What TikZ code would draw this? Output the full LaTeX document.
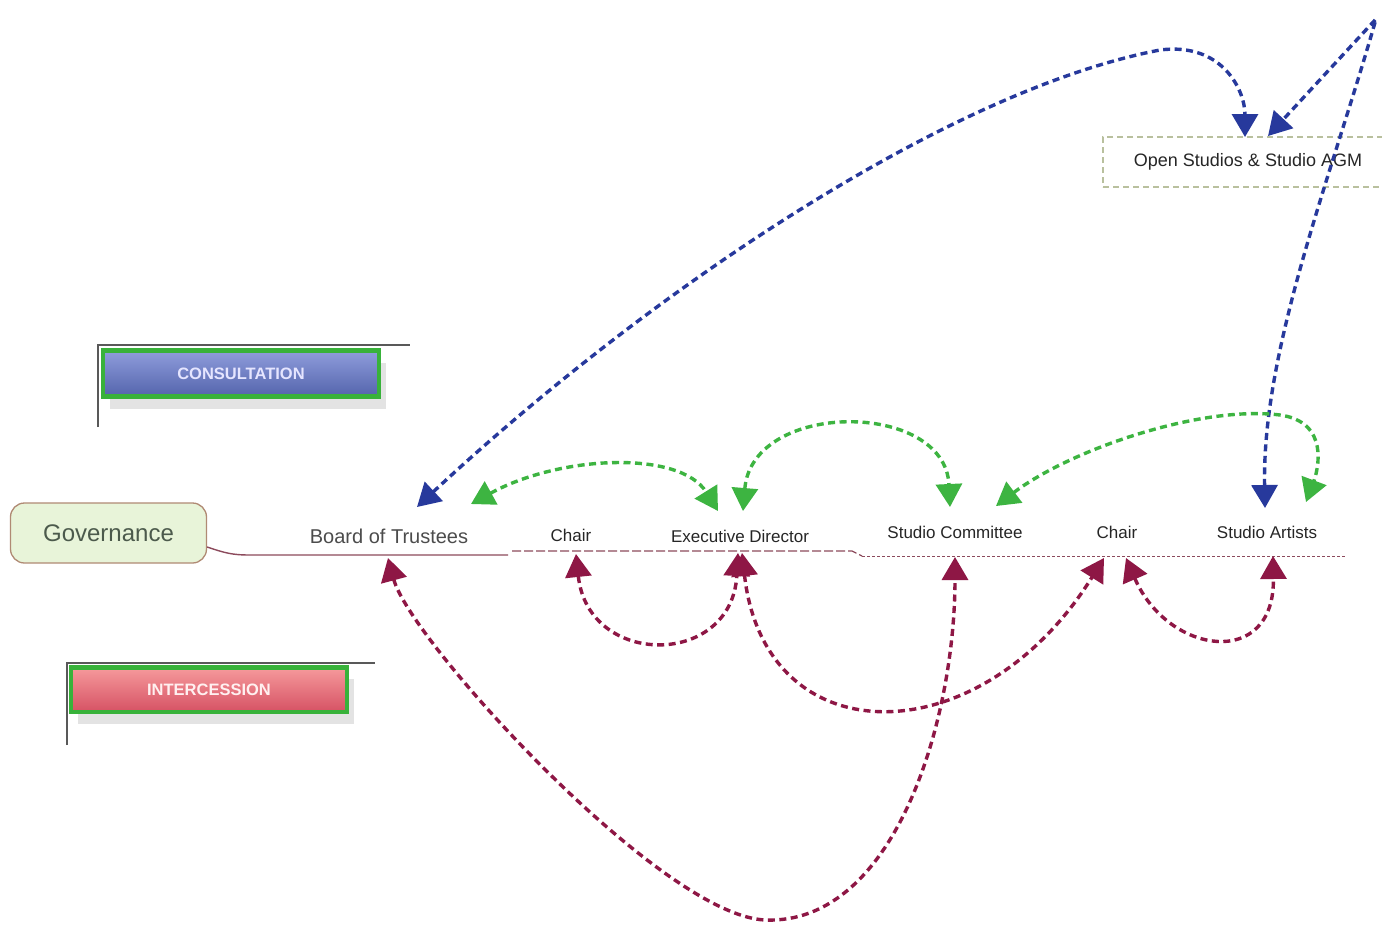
\documentclass[tikz,border=0pt]{standalone}
\usepackage{fontspec}
\setmainfont{Liberation Sans}
\usetikzlibrary{arrows.meta,shadows}

\definecolor{linkblue}{HTML}{27399C}
\definecolor{linkgreen}{HTML}{3DB441}
\definecolor{linkred}{HTML}{8E1745}
\definecolor{axisred}{HTML}{8C4A5C}
\definecolor{govfill}{HTML}{E8F4D9}
\definecolor{govdraw}{HTML}{B08A74}
\definecolor{govtext}{HTML}{4C5A4C}
\definecolor{osadraw}{HTML}{B9C09E}
\definecolor{tabgreen}{HTML}{38B23A}
\definecolor{constop}{HTML}{8F9DDC}
\definecolor{consbot}{HTML}{5464AC}
\definecolor{intertop}{HTML}{F69A9C}
\definecolor{interbot}{HTML}{D65264}

\tikzset{
	link/.style={dash pattern=on 7pt off 4.5pt, line width=3.4pt, >={Triangle[length=23pt,width=26pt]}, <->},
	label/.style={text=black!85, font=\fontsize{17}{20}\selectfont},
	tab/.style={draw=tabgreen, line width=4.5pt, minimum width=276pt, minimum height=46pt,
		font=\bfseries\fontsize{16.5}{19}\selectfont, drop shadow={shadow xshift=7pt, shadow yshift=-12pt, opacity=.22}},
	bracket/.style={draw=black!65, line width=2pt},
	axisline/.style={draw=axisred, line width=1.4pt}
}

\begin{document}
\begin{tikzpicture}[x=1pt,y=-1pt]
					\useasboundingbox (0,0) rectangle (1382,927);
					\fill[white] (0,0) rectangle (1382,927);

					% legend
					\draw[bracket] (98,427) -- (98,345) -- (410,345);
					\node[tab, top color=constop, bottom color=consbot, text=blue!10!white] (cons) at (241,373.5) {CONSULTATION};
					\draw[bracket] (67,745) -- (67,663) -- (375,663);
					\node[tab, top color=intertop, bottom color=interbot, text=red!6!white, minimum height=44.5pt] (inter) at (209,689.5) {INTERCESSION};

					% names
					\node[rounded corners=14pt, draw=govdraw, fill=govfill, line width=1.3pt, minimum width=196pt, minimum height=60pt,
						text=govtext, font=\fontsize{24}{28}\selectfont] (gov) at (108.5,533) {Governance};
					\node[text=black!70, font=\fontsize{20}{24}\selectfont] (bot) at (389,536) {Board of Trustees};
					\node[label] (chair1) at (571,535) {Chair};
					\node[label] (exd) at (740,536) {Executive Director};
					\node[label] (sc) at (955,532) {Studio Committee};
					\node[label] (chair2) at (1117,532) {Chair};
					\node[label] (sa) at (1267,532) {Studio Artists};
					\node[draw=osadraw, dash pattern=on 6pt off 4pt, line width=1.2pt, minimum width=290pt, minimum height=50pt,
						text=black!85, font=\fontsize{18}{21}\selectfont] (osa) at (1248,162) {Open Studios \& Studio AGM};

					\draw[axisline] ([yshift=-14pt]gov.east) .. controls (225,553) and (232,555) .. (250,555) -- (508,555);
					\draw[axisline, line width=1.2pt, dash pattern=on 9pt off 3pt] (512,551) -- (852,551) -- (862,556);
					\draw[axisline, line width=1pt, dash pattern=on 3pt off 2pt] (862,556) -- (1345,556);

					% arrow ends
					\coordinate (bot b) at (417,507);
					\coordinate (bot g) at (471,504);
					\coordinate (bot r) at (388,558);
					\coordinate (chair1 r) at (576,554);
					\coordinate (exd g1) at (718,511);
					\coordinate (exd g2) at (743,511);
					\coordinate (exd r1) at (738,553);
					\coordinate (exd r2) at (742,553);
					\coordinate (sc g1) at (950,507);
					\coordinate (sc g2) at (996,506);
					\coordinate (sc r) at (955,557);
					\coordinate (chair2 r1) at (1104,558);
					\coordinate (chair2 r2) at (1126,558);
					\coordinate (sa b) at (1265,508);
					\coordinate (sa g) at (1306,502);
					\coordinate (sa r) at (1273,556);
					\coordinate (osa b1) at (1245,137);
					\coordinate (osa b2) at (1268,136);
					\coordinate (corner) at (1376,19);

					% consultation
					\draw[link, linkblue] (bot b) .. controls (650,290) and (950,90) .. (1160,50) .. controls (1222,42) and (1245,90) .. (osa b1);
					\draw[link, linkblue] (sa b) .. controls (1262,350) and (1330,180) .. (corner) -- (osa b2);
					\draw[link, linkgreen] (bot g) .. controls (560,455) and (680,450) .. (exd g1);
					\draw[link, linkgreen] (exd g2) .. controls (752,400) and (945,400) .. (sc g1);
					\draw[link, linkgreen] (sc g2) .. controls (1070,450) and (1200,405) .. (1280,415) .. controls (1330,422) and (1318,470) .. (sa g);

					% intercession
					\draw[link, linkred] (chair1 r) .. controls (588,668) and (732,668) .. (exd r1);
					\draw[link, linkred] (exd r2) .. controls (765,757) and (980,757) .. (chair2 r1);
					\draw[link, linkred] (chair2 r2) .. controls (1168,655) and (1275,670) .. (sa r);
					\draw[link, linkred] (bot r) .. controls (410,640) and (660,915) .. (765,920) .. controls (895,925) and (955,720) .. (sc r);
				\end{tikzpicture}
\end{document}
